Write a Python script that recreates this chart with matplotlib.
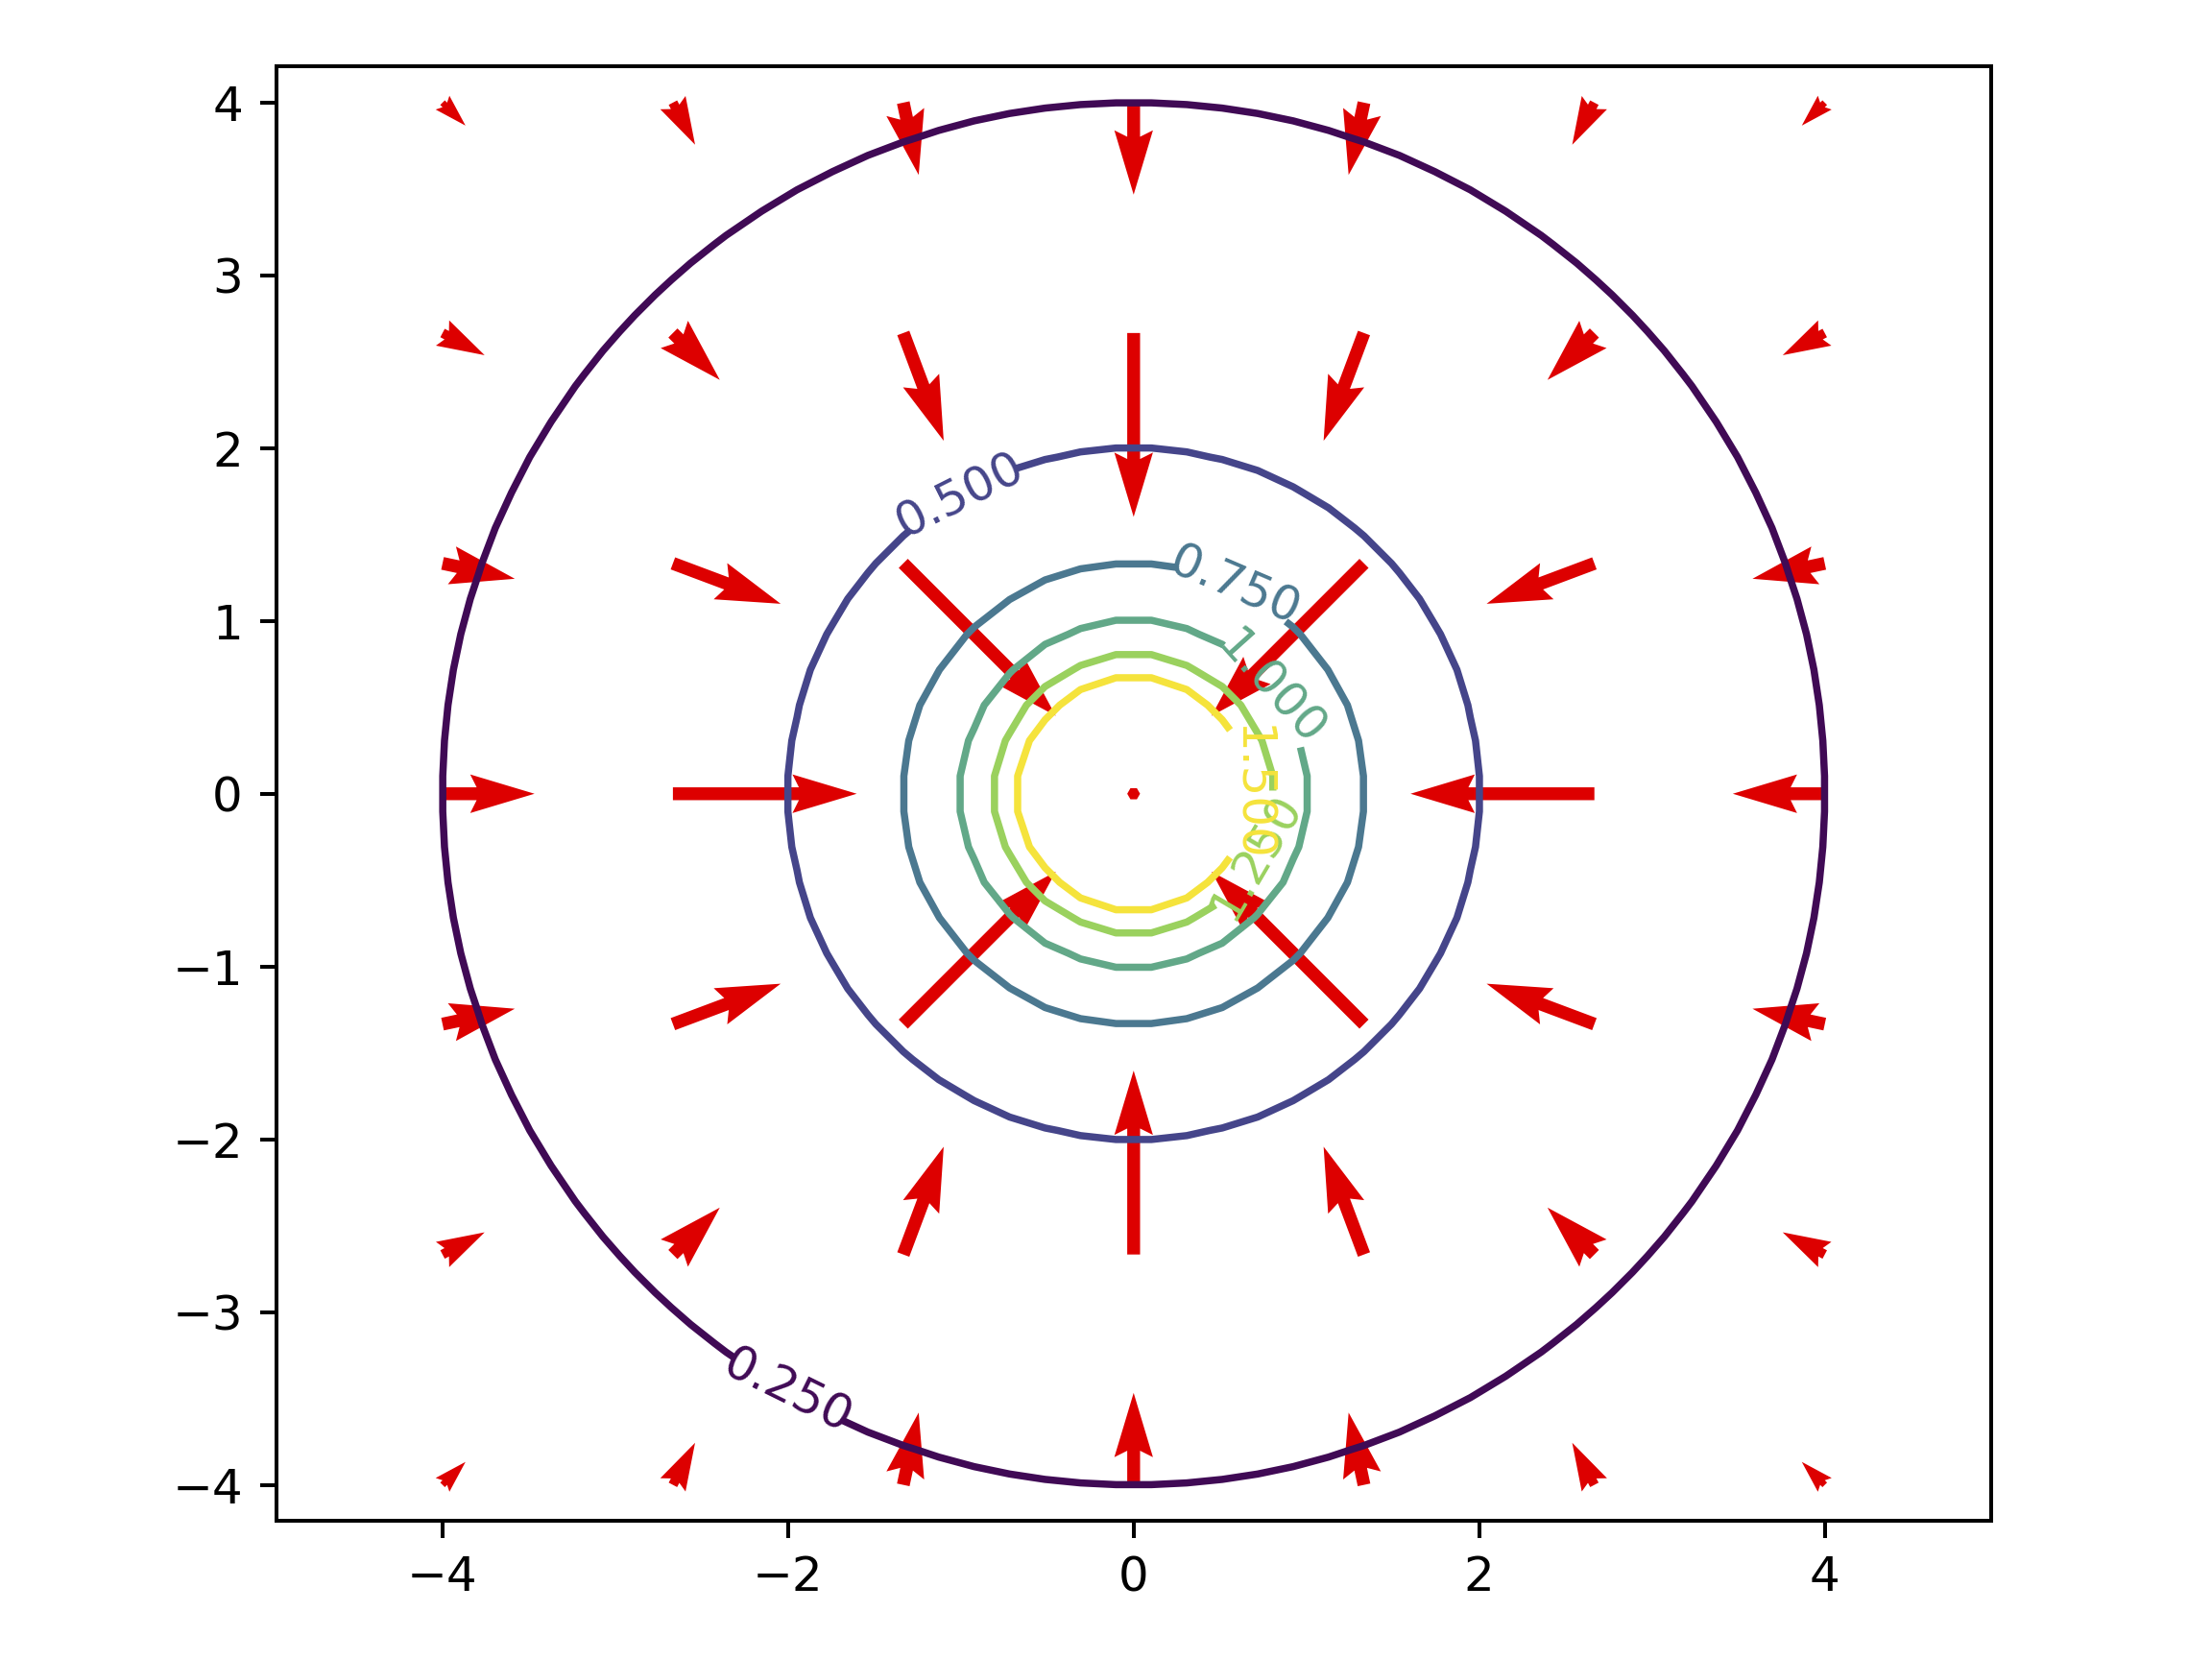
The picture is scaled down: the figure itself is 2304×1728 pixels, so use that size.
import matplotlib
matplotlib.use('Agg')
import matplotlib.pyplot as plt
import numpy as np

# Quiver grid positions
grid_pts = [-4.0, -8/3, -4/3, 0.0, 4/3, 8/3, 4.0]

# Field components on the quiver grid (rows: y from -4 to 4, cols: x from -4 to 4)
nan = np.nan
U = [
    [0.0234, 0.0226, 0.0157, 0.0, -0.0157, -0.0226, -0.0234],
    [0.0429, 0.0478, 0.0412, 0.0, -0.0412, -0.0478, -0.0429],
    [0.0737, 0.1099, 0.1555, 0.0, -0.1555, -0.1099, -0.0737],
    [0.0938, 0.1875, nan, 0.0, nan, -0.1875, -0.0938],
    [0.0737, 0.1099, 0.1555, 0.0, -0.1555, -0.1099, -0.0737],
    [0.0429, 0.0478, 0.0412, 0.0, -0.0412, -0.0478, -0.0429],
    [0.0234, 0.0226, 0.0157, 0.0, -0.0157, -0.0226, -0.0234],
]
V = [
    [0.0234, 0.0429, 0.0737, 0.0938, 0.0737, 0.0429, 0.0234],
    [0.0226, 0.0478, 0.1099, 0.1875, 0.1099, 0.0478, 0.0226],
    [0.0157, 0.0412, 0.1555, nan, 0.1555, 0.0412, 0.0157],
    [0.0, 0.0, 0.0, 0.0, 0.0, 0.0, 0.0],
    [-0.0157, -0.0412, -0.1555, nan, -0.1555, -0.0412, -0.0157],
    [-0.0226, -0.0478, -0.1099, -0.1875, -0.1099, -0.0478, -0.0226],
    [-0.0234, -0.0429, -0.0737, -0.0938, -0.0737, -0.0429, -0.0234],
]

# Contour levels of the potential and their label spots
levels = [0.25, 0.5, 0.75, 1.0, 1.25, 1.5]
label_spots = [(-2.0, -3.45), (-1.01, 1.74), (0.585, 1.20),
               (0.79, 0.61), (0.71, -0.36), (0.667, 0.0)]
level_colors = ['#400a55', '#45458a', '#4b7890', '#62a888', '#9ad15e', '#f5e33c']

# Potential 1/r on a coarse grid
xs = np.linspace(-4, 4, 40)
X, Y = np.meshgrid(xs, xs)
Z = 1.0 / np.sqrt(X**2 + Y**2)

fig = plt.figure(figsize=(6.4, 4.8), dpi=360)
ax = fig.add_axes([0.125, 0.0833, 0.775, 0.8765])

QX, QY = np.meshgrid(grid_pts, grid_pts)
ax.quiver(QX, QY, np.array(U), np.array(V), color='#dd0000',
          angles='xy', scale_units='xy', scale=0.1762)

cs = ax.contour(X, Y, Z, levels=levels, colors=level_colors)
ax.clabel(cs, fmt='%1.3f', manual=label_spots)

ax.set_aspect('equal')
ax.set_xlim(-4.961, 4.961)
ax.set_ylim(-4.208, 4.208)
ax.set_xticks([-4, -2, 0, 2, 4])
ax.set_yticks([-4, -3, -2, -1, 0, 1, 2, 3, 4])

fig.savefig('out.png', dpi=360)
